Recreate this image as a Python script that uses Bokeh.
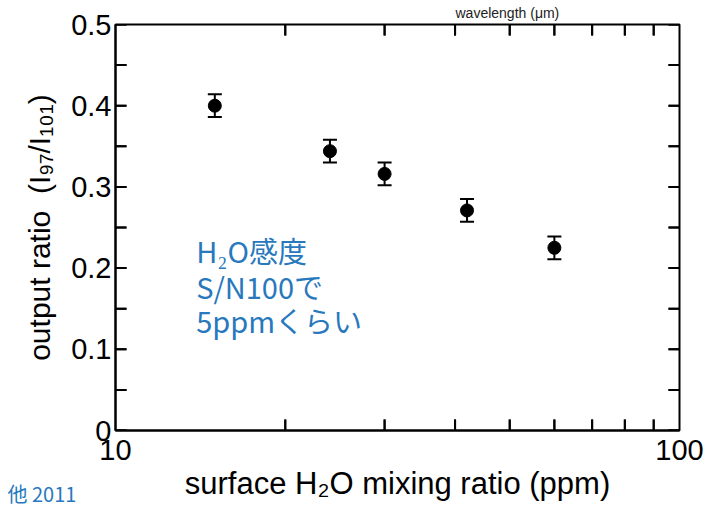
from bokeh.plotting import figure
from bokeh.models import (FixedTicker, Whisker, ColumnDataSource, TeeHead,
                          Label, Range1d, Title)
from bokeh.embed import file_html
from bokeh.resources import INLINE

# ---- data ----
h2o_ppm = [15.0, 24.0, 30.0, 42.0, 60.0]
ratio = [0.400, 0.344, 0.316, 0.271, 0.225]
ratio_err = [0.014, 0.014, 0.014, 0.014, 0.014]

x_range_ends = [10, 100]
y_range_ends = [0.0, 0.5]
x_major = [10, 100]
x_minor = [20, 30, 40, 50, 60, 70, 80, 90]
y_major = [0.0, 0.1, 0.2, 0.3, 0.4, 0.5]
y_minor = [0.05, 0.15, 0.25, 0.35, 0.45]
y_labels = {0.0: "0", 0.1: "0.1", 0.2: "0.2", 0.3: "0.3", 0.4: "0.4", 0.5: "0.5"}

note_lines = ["H₂O感度", "S/N100で", "5ppmくらい"]
note_y = [0.222, 0.178, 0.136]
note_x = [13.9, 13.9, 13.9]

FONT = "Liberation Sans"
BLUE = "#2878BD"

W, H = 709, 508
BL, BR, BT, BB = 115, 30, 24, 78
FRAME_W = W - BL - BR
FRAME_H = H - BT - BB
TICK_PX = 11

src = ColumnDataSource(dict(
    x=h2o_ppm, y=ratio,
    lo=[r - e for r, e in zip(ratio, ratio_err)],
    hi=[r + e for r, e in zip(ratio, ratio_err)],
))

p = figure(width=W, height=H, x_axis_type="log",
           x_range=Range1d(*x_range_ends), y_range=Range1d(*y_range_ends),
           output_backend="svg", toolbar_location=None,
           min_border_left=BL, min_border_right=BR,
           min_border_top=BT, min_border_bottom=BB)
p.grid.visible = False
p.outline_line_color = "black"
p.outline_line_width = 2
p.background_fill_color = None
p.border_fill_color = None

for ax in (p.xaxis[0], p.yaxis[0]):
    ax.axis_line_color = "black"
    ax.axis_line_width = 2
    ax.major_tick_in = 0
    ax.major_tick_out = 0
    ax.minor_tick_in = 0
    ax.minor_tick_out = 0
    ax.major_label_text_font = FONT
    ax.major_label_text_color = "black"
    ax.axis_label_text_font = FONT
    ax.axis_label_text_font_style = "normal"
    ax.axis_label_text_color = "black"

xb = p.xaxis[0]
xb.ticker = FixedTicker(ticks=x_major, minor_ticks=x_minor)
xb.major_label_overrides = {10: "10", 100: "100"}
xb.major_label_text_font_size = "29px"
xb.major_label_standoff = 9
xb.axis_label = "surface H₂O mixing ratio (ppm)"
xb.axis_label_text_font_size = "31px"
xb.axis_label_standoff = 3

yl = p.yaxis[0]
yl.ticker = FixedTicker(ticks=y_major, minor_ticks=y_minor)
yl.major_label_overrides = y_labels
yl.major_label_text_font_size = "29px"
yl.major_label_standoff = 4
yl.axis_label = "output ratio\u00a0 (I₉₇/I₁₀₁)"
yl.axis_label_text_font_size = "30px"
yl.axis_label_standoff = 12

# inward tick marks on all four sides
ty = (y_range_ends[1] - y_range_ends[0]) * TICK_PX / FRAME_H
tx = 10 ** (TICK_PX / FRAME_W)          # one decade spans the frame width
all_y = y_major + y_minor
n_x, n_y = len(x_minor), len(all_y)

tick_x0 = x_minor + x_minor + [x_range_ends[0]] * n_y + [x_range_ends[1]] * n_y
tick_x1 = x_minor + x_minor + [x_range_ends[0] * tx] * n_y + [x_range_ends[1] / tx] * n_y
tick_y0 = [y_range_ends[0]] * n_x + [y_range_ends[1]] * n_x + all_y + all_y
tick_y1 = [y_range_ends[0] + ty] * n_x + [y_range_ends[1] - ty] * n_x + all_y + all_y
p.segment(x0=tick_x0, y0=tick_y0, x1=tick_x1, y1=tick_y1,
          line_color="black", line_width=2)

vt = ColumnDataSource(dict(
    base=x_minor + x_minor,
    lo=[y_range_ends[0]] * n_x + [y_range_ends[1] - ty] * n_x,
    hi=[y_range_ends[0] + ty] * n_x + [y_range_ends[1]] * n_x,
))
ht = ColumnDataSource(dict(
    base=all_y + all_y,
    lo=[x_range_ends[0]] * n_y + [x_range_ends[1] / tx] * n_y,
    hi=[x_range_ends[0] * tx] * n_y + [x_range_ends[1]] * n_y,
))
p.add_layout(Whisker(source=vt, base="base", lower="lo", upper="hi", dimension="height",
                     line_color="black", line_width=2, upper_head=None, lower_head=None))
p.add_layout(Whisker(source=ht, base="base", lower="lo", upper="hi", dimension="width",
                     line_color="black", line_width=2, upper_head=None, lower_head=None))

# error bars and points
p.add_layout(Whisker(source=src, base="x", upper="hi", lower="lo",
                     dimension="height", line_color="black", line_width=2,
                     upper_head=TeeHead(size=14, line_width=2, line_color="black"),
                     lower_head=TeeHead(size=14, line_width=2, line_color="black")))
p.scatter("x", "y", source=src, size=13, marker="circle",
          fill_color="black", line_color="black")

# blue note
for nx, ny, t in zip(note_x, note_y, note_lines):
    p.add_layout(Label(x=nx, y=ny, text=t, text_font="Noto Sans CJK JP",
                       text_font_size="29px", text_color=BLUE,
                       text_baseline="middle", text_align="left"))

# small texts outside the plot frame
p.add_layout(Title(text="wavelength (μm)", text_font=FONT, text_font_size="14px",
                   text_font_style="normal", text_color="#222222",
                   align="left", vertical_align="top", offset=340, standoff=4), "above")
p.add_layout(Title(text="他 2011", text_font="Noto Sans CJK JP", text_font_size="20px",
                   text_font_style="normal", text_color=BLUE,
                   align="left", vertical_align="top", offset=-108, standoff=-50), "below")

open("out.html", "w").write(file_html(p, INLINE))
